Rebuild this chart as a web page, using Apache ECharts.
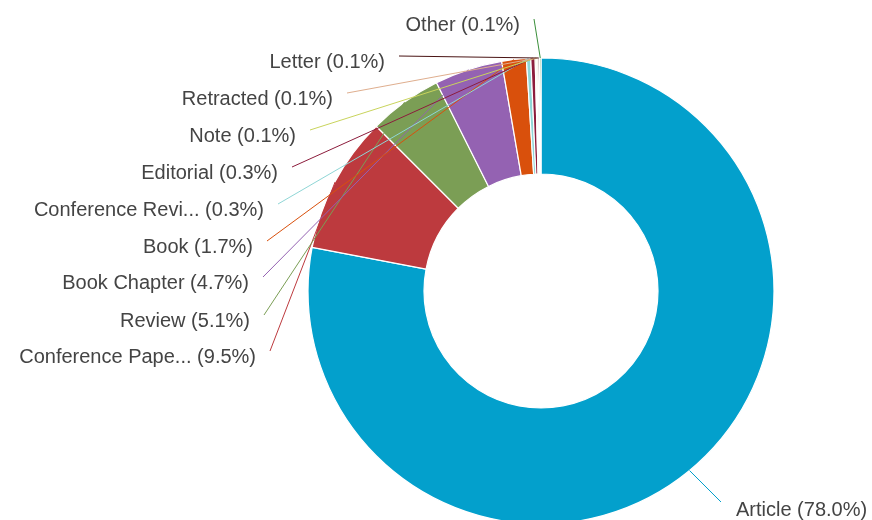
<!DOCTYPE html>
<html>
<head>
<meta charset="utf-8">
<script src="https://cdn.jsdelivr.net/npm/echarts@6/dist/echarts.min.js"></script>
<style>
  html, body { margin: 0; padding: 0; background: #ffffff; }
  #chart { width: 872px; height: 520px; }
</style>
</head>
<body>
<div id="chart"></div>
<script>
// Document types and their share of the total (percent)
const docTypes = [
  'Article', 'Conference Paper', 'Review', 'Book Chapter', 'Book',
  'Conference Review', 'Editorial', 'Note', 'Retracted', 'Letter', 'Other'
];
const docShares = [78.0, 9.5, 5.1, 4.7, 1.7, 0.3, 0.3, 0.1, 0.1, 0.1, 0.1];

// Slice colours, one per document type
const sliceColors = [
  '#03a0cc', '#bd3a3e', '#7b9e55', '#9462b2', '#d9500c',
  '#8fd6d6', '#8c1c3c', '#c9d45c', '#dfae8e', '#4a1414', '#3a8f3a'
];

// Label anchor for each slice: [x, y, horizontal alignment]
const labelSpots = [
  [736, 510, 'left'],
  [256, 357, 'right'],
  [250, 321, 'right'],
  [249, 283, 'right'],
  [253, 247, 'right'],
  [264, 210, 'right'],
  [278, 173, 'right'],
  [296, 136, 'right'],
  [333, 99, 'right'],
  [385, 62, 'right'],
  [520, 25, 'right']
];

// Ring geometry
const ringCenter = [541, 291];
const ringRadius = [117, 233];

function shortName(name) {
  return name.length > 15 ? name.slice(0, 15) + '...' : name;
}

// Leader lines: straight from the middle of each slice's outer arc to its label
const total = docShares.reduce((a, b) => a + b, 0);
const leaderLines = [];
let cum = 0;
docShares.forEach((share, i) => {
  const theta = 2 * Math.PI * (cum + share / 2) / total;
  cum += share;
  const sx = ringCenter[0] + ringRadius[1] * Math.sin(theta);
  const sy = ringCenter[1] - ringRadius[1] * Math.cos(theta);
  const spot = labelSpots[i];
  const ex = spot[2] === 'right' ? spot[0] + 14 : spot[0] - 15;
  const ey = spot[2] === 'right' ? spot[1] - 6 : spot[1] - 8;
  leaderLines.push({
    type: 'line',
    z: 100,
    silent: true,
    shape: { x1: sx, y1: sy, x2: ex, y2: ey },
    style: { stroke: sliceColors[i], lineWidth: 1 }
  });
});

const chart = echarts.init(document.getElementById('chart'), null, { renderer: 'canvas' });

chart.setOption({
  animation: false,
  backgroundColor: '#ffffff',
  graphic: { elements: leaderLines },
  series: [{
    type: 'pie',
    center: ringCenter,
    radius: ringRadius,
    startAngle: 90,
    clockwise: true,
    avoidLabelOverlap: false,
    data: docTypes.map((name, i) => ({
      name: name,
      value: docShares[i],
      itemStyle: { color: sliceColors[i] }
    })),
    itemStyle: { borderColor: '#ffffff', borderWidth: 1.2 },
    emphasis: { disabled: true },
    label: {
      show: true,
      position: 'outside',
      color: '#444444',
      fontFamily: '"Liberation Sans", Arial, sans-serif',
      fontSize: 20,
      formatter: (p) => shortName(p.name) + ' (' + docShares[p.dataIndex].toFixed(1) + '%)'
    },
    labelLine: { show: false },
    labelLayout: function (params) {
      const spot = labelSpots[params.dataIndex];
      return {
        x: spot[0],
        y: spot[1],
        align: spot[2],
        verticalAlign: 'middle'
      };
    }
  }]
});
</script>
</body>
</html>
